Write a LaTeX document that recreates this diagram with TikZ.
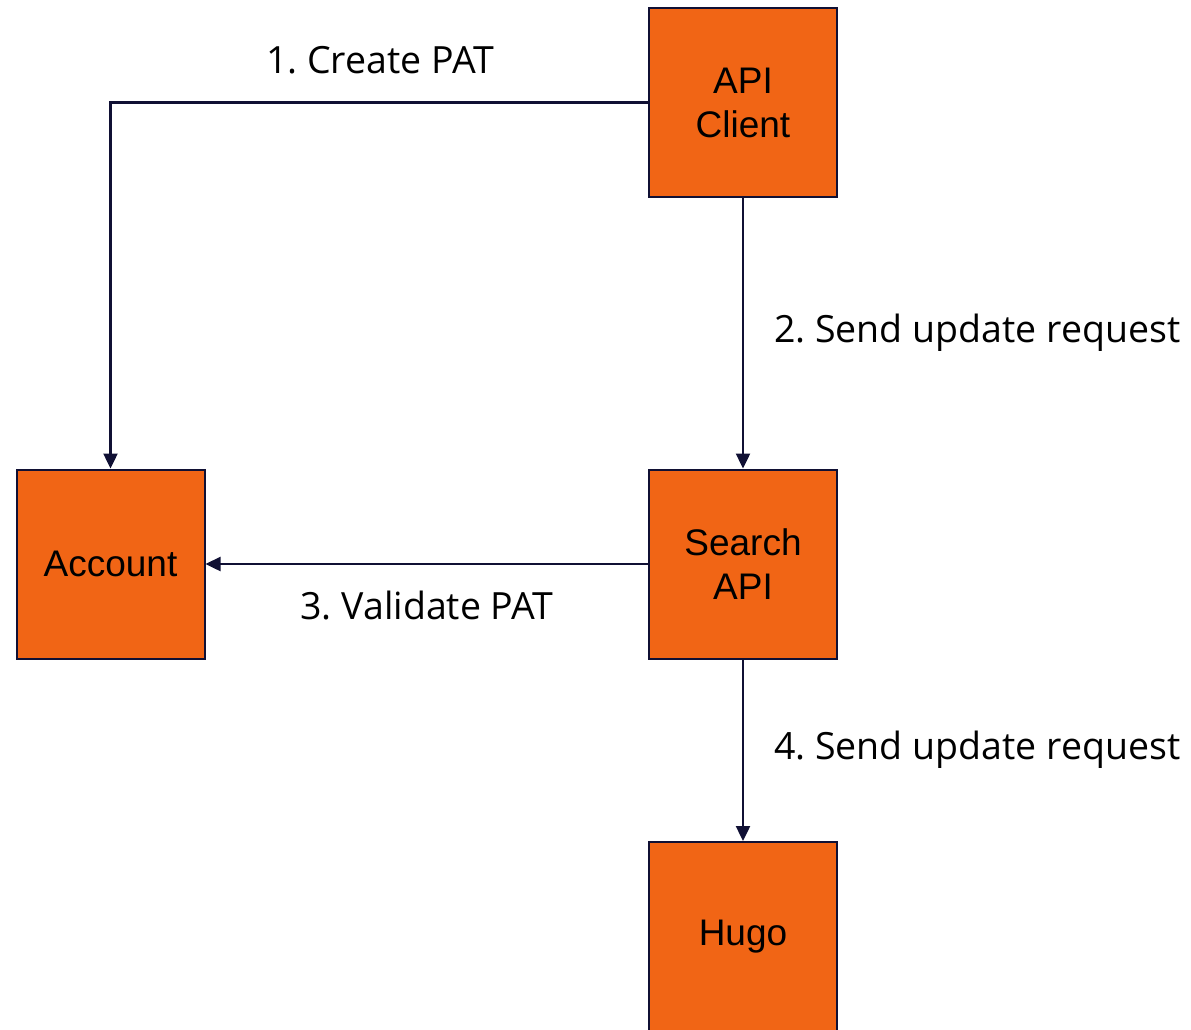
\documentclass[tikz,border=0pt]{standalone}
\usepackage{fontspec}
\setmainfont{Liberation Sans}
\newfontfamily\stepfont{Open Sans}
\usepackage{tikz}
\usetikzlibrary{arrows.meta}
\definecolor{boxorange}{RGB}{241,101,21}
\definecolor{linenavy}{RGB}{16,16,52}
\frenchspacing
\tikzset{
    service/.style={draw=linenavy, line width=2pt, fill=boxorange, minimum width=188pt,
        minimum height=189pt, inner sep=0pt, align=center,
        font=\fontsize{37}{44}\selectfont},
    flow/.style={draw=linenavy, line width=2.4pt, -{Triangle[length=15pt,width=14pt]}},
    steptext/.style={font=\stepfont\fontsize{37.5}{44}\selectfont, inner sep=0pt}
}

\begin{document}
\begin{tikzpicture}[x=1pt, y=-1pt]
        \useasboundingbox (0,0) rectangle (1191,1029);
        \node[service] (client) at (743,102.5) {API\\Client};
        \node[service] (search) at (743,564) {Search\\API};
        \node[service] (account) at (110.5,564) {Account};
        \node[service] (hugo) at (743,936.5) {Hugo};

        \draw[flow] (client.west) -| (account.north);
        \draw[flow] (client.south) -- (search.north);
        \draw[flow] (search.west) -- (account.east);
        \draw[flow] (search.south) -- (hugo.north);

        \node[steptext] (create) at (380,60) {1. Create PAT};
        \node[steptext, anchor=west] (send) at (774,333) {2. Send update request};
        \node[steptext] (validate) at (427,606) {3. Validate PAT};
        \node[steptext, anchor=west] (forward) at (774,750) {4. Send update request};
    \end{tikzpicture}
\end{document}
